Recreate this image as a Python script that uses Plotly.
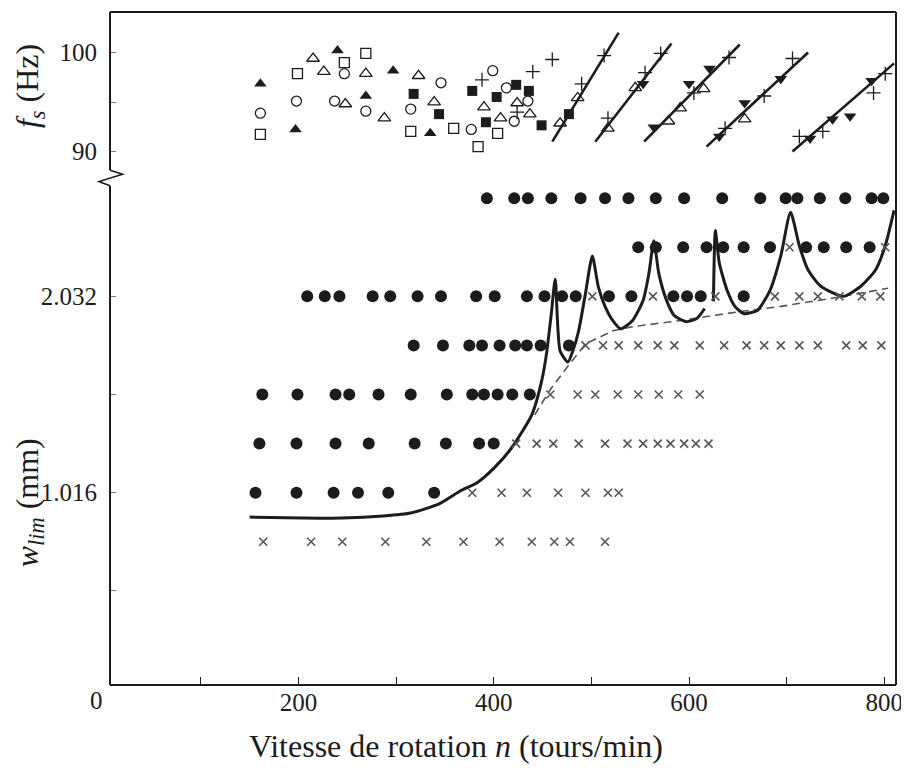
import plotly.graph_objects as go

# ---- lower panel : w_lim (mm) vs n (tours/min) ----
# stable cuts (filled dots) and chatter cuts (crosses), one list per depth
depths = [2.54, 2.286, 2.032, 1.778, 1.524, 1.27, 1.016, 0.762]

stable_n = {
    2.54: [393, 421, 435, 459, 489, 514, 538, 566, 595, 634, 673, 699, 711, 734, 760, 787, 799],
    2.286: [548, 566, 594, 618, 635, 656, 683, 720, 738, 761, 785],
    2.032: [209, 227, 242, 276, 294, 322, 346, 382, 401, 434, 452, 470, 484, 518, 541, 584, 598, 612, 656],
    1.778: [318, 348, 375, 388, 406, 422, 434, 448, 477],
    1.524: [163, 199, 238, 252, 282, 315, 352, 378, 390, 404, 419, 437],
    1.27: [160, 198, 238, 272, 319, 351, 385, 400],
    1.016: [156, 198, 236, 261, 292, 339],
    0.762: [],
}
chatter_n = {
    2.54: [],
    2.286: [703, 801],
    2.032: [501, 563, 627, 688, 713, 732, 754, 777, 796],
    1.778: [494, 512, 528, 548, 568, 585, 611, 636, 659, 677, 694, 713, 732, 761, 778, 797],
    1.524: [458, 486, 504, 527, 548, 569, 589, 611],
    1.27: [423, 444, 461, 487, 514, 537, 553, 568, 581, 595, 607, 620],
    1.016: [378, 408, 434, 466, 494, 517, 528],
    0.762: [164, 213, 245, 289, 331, 369, 406, 439, 462, 478, 514],
}

# stability lobes (solid), two pieces
lobe_a_n = [150, 204, 245, 287, 315, 344, 366, 383, 401, 418, 439, 449, 454, 459, 463,
            468, 476, 481, 487, 494, 501, 507, 514, 522, 530, 542, 553, 559, 564,
            569, 577, 585, 597, 608, 616]
lobe_a_w = [0.890, 0.885, 0.885, 0.896, 0.911, 0.958, 1.026, 1.068, 1.147, 1.246, 1.419, 1.592, 1.733, 1.943, 2.121,
            1.749, 1.692, 1.749, 1.854, 2.048, 2.241, 2.084, 1.980, 1.906, 1.864, 1.906, 2.011, 2.152, 2.320,
            2.152, 2.011, 1.932, 1.901, 1.917, 1.969]
lobe_b_n = [625, 627, 631, 639, 647, 656, 670, 683, 694, 704, 713, 722, 735, 758, 776, 791, 801, 810]
lobe_b_w = [2.006, 2.372, 2.205, 2.063, 1.980, 1.943, 1.959, 2.063, 2.241, 2.467, 2.294, 2.168, 2.084,
            2.032, 2.084, 2.168, 2.294, 2.477]

# asymptotic limit (dashed)
asym_n = [442, 458, 476, 494, 522, 542, 590, 652, 694, 745, 804]
asym_w = [1.419, 1.550, 1.671, 1.786, 1.854, 1.875, 1.906, 1.953, 1.980, 2.021, 2.074]

# ---- upper panel : chatter frequency f_s (Hz) ----
fline_n0 = [460, 504, 554, 618, 706]
fline_f0 = [91.0, 91.0, 91.0, 90.5, 90.0]
fline_n1 = [528, 582, 652, 722, 810]
fline_f1 = [102.0, 100.9, 100.8, 100.0, 98.9]

tri_up_n = [161, 197, 240, 297, 269, 335]
tri_up_f = [96.84, 92.24, 100.2, 98.16, 95.61, 91.84]
tri_open_n = [215, 226, 269, 248, 288, 323, 339, 390, 407, 424, 437,
              468, 486, 517, 545, 579, 591, 615, 657]
tri_open_f = [99.39, 98.06, 97.86, 94.80, 93.37, 97.65, 95.0, 94.49, 93.37, 94.90, 93.78,
              92.86, 95.41, 92.35, 96.43, 93.06, 94.39, 96.33, 93.27]
tri_down_n = [553, 564, 600, 621, 631, 657, 694, 724, 747, 765, 787]
tri_down_f = [96.84, 92.45, 96.84, 98.37, 91.53, 94.90, 97.35, 91.33, 93.27, 93.57, 97.14]
circ_n = [161, 198, 247, 237, 269, 315, 346, 377, 399, 413, 421, 435]
circ_f = [93.88, 95.10, 97.86, 95.10, 94.08, 94.29, 96.94, 92.24, 98.16, 96.43, 93.06, 95.10]
sq_open_n = [161, 199, 247, 269, 315, 359, 384, 404]
sq_open_f = [91.73, 97.86, 98.98, 99.90, 92.04, 92.35, 90.51, 91.84]
sq_n = [318, 344, 378, 392, 403, 423, 436, 449, 477]
sq_f = [95.82, 93.78, 96.12, 92.96, 95.51, 96.73, 96.12, 92.65, 93.78]
plus_n = [490, 513, 517, 555, 571, 605, 641, 637, 677, 706, 713, 737, 789, 801, 460, 440, 388, 424]
plus_f = [96.84, 99.69, 93.37, 97.96, 99.90, 95.92, 99.49, 92.35, 95.61, 99.39, 91.53, 92.04,
          95.92, 97.86, 99.29, 98.06, 97.24, 93.98]

xticks = [0, 100, 200, 300, 400, 500, 600, 700, 800]
xticklabels = ["", "", "200", "", "400", "", "600", "", "800"]

serif = "Liberation Serif, Times New Roman, serif"
ink = "#1c1c1c"

fig = go.Figure()

# lower panel points
dot_x, dot_y, crx_x, crx_y = [], [], [], []
for d in depths:
    dot_x += stable_n[d]
    dot_y += [d] * len(stable_n[d])
    crx_x += chatter_n[d]
    crx_y += [d] * len(chatter_n[d])

fig.add_trace(go.Scatter(x=asym_n, y=asym_w, mode="lines",
                         line=dict(color="#555", width=1.6, dash="8px,5px"),
                         xaxis="x", yaxis="y"))
fig.add_trace(go.Scatter(x=lobe_a_n, y=lobe_a_w, mode="lines",
                         line=dict(color=ink, width=3, shape="spline", smoothing=0.6),
                         xaxis="x", yaxis="y"))
fig.add_trace(go.Scatter(x=lobe_b_n, y=lobe_b_w, mode="lines",
                         line=dict(color=ink, width=3, shape="spline", smoothing=0.6),
                         xaxis="x", yaxis="y"))
fig.add_trace(go.Scatter(x=dot_x, y=dot_y, mode="markers",
                         marker=dict(symbol="circle", size=12, color=ink),
                         xaxis="x", yaxis="y"))
fig.add_trace(go.Scatter(x=crx_x, y=crx_y, mode="markers",
                         marker=dict(symbol="x-thin", size=8, line=dict(color="#555", width=1.6)),
                         xaxis="x", yaxis="y"))

# upper panel lines
for a, b, c, d in zip(fline_n0, fline_f0, fline_n1, fline_f1):
    fig.add_trace(go.Scatter(x=[a, c], y=[b, d], mode="lines",
                             line=dict(color=ink, width=2.6),
                             xaxis="x", yaxis="y2"))

def pts(xs, ys, sym, size, filled):
    if filled:
        mk = dict(symbol=sym, size=size, color=ink)
    else:
        mk = dict(symbol=sym, size=size, color=ink, line=dict(color=ink, width=1.3))
    fig.add_trace(go.Scatter(x=xs, y=ys, mode="markers", marker=mk, xaxis="x", yaxis="y2"))

pts(tri_up_n, tri_up_f, "triangle-up", 11, True)
pts(tri_open_n, tri_open_f, "triangle-up-open", 11, False)
pts(tri_down_n, tri_down_f, "triangle-down", 11, True)
pts(circ_n, circ_f, "circle-open", 10, False)
pts(sq_open_n, sq_open_f, "square-open", 10, False)
pts(sq_n, sq_f, "square", 10, True)
pts(plus_n, plus_f, "cross-thin-open", 10, False)

# frame with axis break on the left side (paper coords of plot area)
brk_top, brk_bot = 0.765, 0.742
shapes = [
    dict(type="line", xref="paper", yref="paper", x0=0, y0=1, x1=1, y1=1, line=dict(color=ink, width=2)),
    dict(type="line", xref="paper", yref="paper", x0=1, y0=0, x1=1, y1=1, line=dict(color=ink, width=2)),
    dict(type="line", xref="paper", yref="paper", x0=0, y0=0, x1=1, y1=0, line=dict(color=ink, width=2)),
    dict(type="line", xref="paper", yref="paper", x0=0, y0=brk_top, x1=0, y1=1, line=dict(color=ink, width=2)),
    dict(type="line", xref="paper", yref="paper", x0=0, y0=0, x1=0, y1=brk_bot, line=dict(color=ink, width=2)),
    dict(type="path", xref="paper", yref="paper",
         path=f"M 0 {brk_top} L 0.016 {brk_top - 0.006} L -0.014 {brk_bot + 0.006} L 0 {brk_bot}",
         line=dict(color=ink, width=1.6)),
]

# the page adds an 8px body margin, so the figure is 8px smaller and shifted
fig.update_layout(
    width=901, height=766,
    margin=dict(l=102, r=13, t=4, b=89),
    paper_bgcolor="white", plot_bgcolor="white",
    showlegend=False,
    shapes=shapes,
    font=dict(family=serif, color=ink, size=24),
    xaxis=dict(range=[7, 812], tickvals=xticks, ticktext=xticklabels, ticks="inside",
               ticklen=8, tickcolor=ink, showgrid=False, zeroline=False, showline=False,
               anchor="y", ticklabelstandoff=0, tickfont=dict(size=25, family=serif)),
    yaxis=dict(domain=[0, 0.755], range=[0.021, 2.65],
               tickvals=[0.508, 1.016, 1.524, 2.032], ticktext=["", "1.016", "", "2.032"],
               ticks="inside", ticklen=6, tickcolor="#777", showgrid=False, zeroline=False,
               showline=False, ticklabelstandoff=12, tickfont=dict(size=25, family=serif)),
    yaxis2=dict(domain=[0.755, 1], range=[87.45, 104.08],
                tickvals=[90, 95, 100], ticktext=["90", "", "100"],
                ticks="inside", ticklen=6, tickcolor="#777", showgrid=False, zeroline=False,
                showline=False, anchor="x", ticklabelstandoff=12,
                tickfont=dict(size=25, family=serif)),
    annotations=[
        dict(text="0", xref="paper", yref="paper", x=-0.017, y=-0.023, showarrow=False,
             font=dict(size=25, family=serif), xanchor="center", yanchor="middle"),
        dict(text="Vitesse de rotation <i>n</i> (tours/min)", xref="paper", yref="paper",
             x=0.44, y=-0.061, xanchor="center", yanchor="top", showarrow=False,
             font=dict(size=32, family=serif)),
        dict(text="<i>f<sub>s</sub></i> (Hz)", xref="paper", yref="paper",
             x=-0.103, y=0.89, xanchor="center", yanchor="middle", textangle=-90,
             showarrow=False, font=dict(size=32, family=serif)),
        dict(text="<i>w<sub>lim</sub></i> (mm)", xref="paper", yref="paper",
             x=-0.103, y=0.27, xanchor="center", yanchor="middle", textangle=-90,
             showarrow=False, font=dict(size=32, family=serif)),
    ],
)

fig.write_html("out.html")
